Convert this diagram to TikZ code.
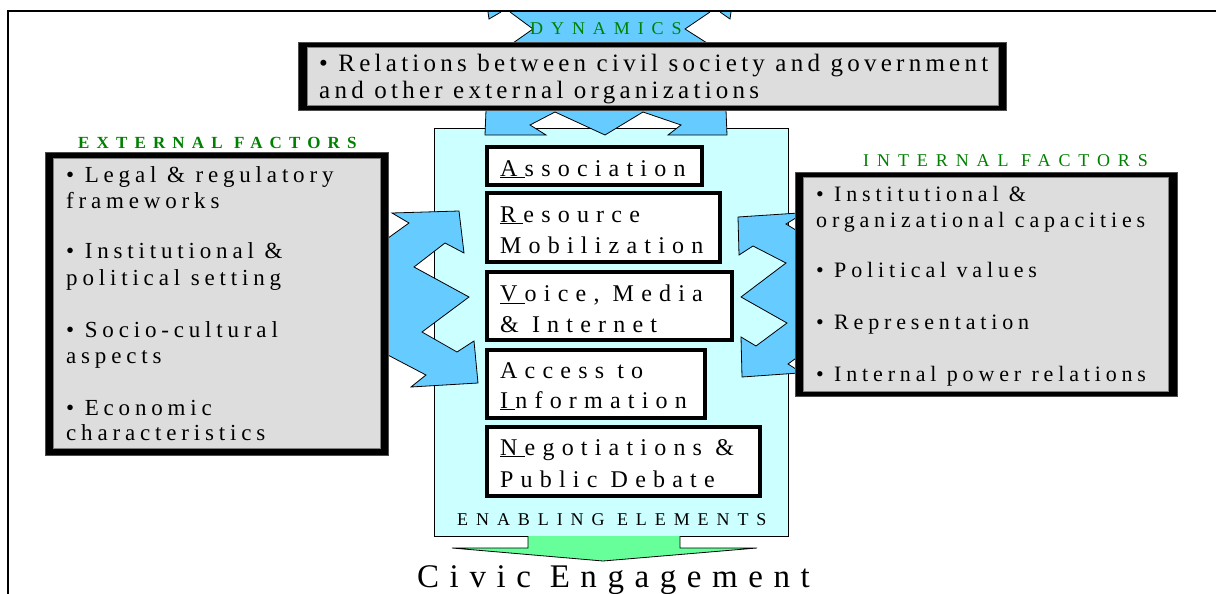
\documentclass[tikz,border=0pt]{standalone}
\usepackage{fontspec}
\setmainfont{Liberation Serif}
\newfontfamily\relf[LetterSpace=17]{Liberation Serif}
\newfontfamily\leftf[LetterSpace=21]{Liberation Serif}
\newfontfamily\rightf[LetterSpace=22]{Liberation Serif}
\newfontfamily\boxf[LetterSpace=30]{Liberation Serif}
\newfontfamily\labf[LetterSpace=44]{Liberation Serif}
\newfontfamily\labbf[LetterSpace=42]{Liberation Serif}
\newfontfamily\civf[LetterSpace=32]{Liberation Serif}
\newcommand{\firstul}[1]{\underline{#1\kern.3em}}
\definecolor{arrowblue}{RGB}{102,204,255}
\definecolor{panelcyan}{RGB}{204,255,255}
\definecolor{boxgray}{RGB}{221,221,221}
\definecolor{labgreen}{RGB}{0,128,0}
\definecolor{arrowgreen}{RGB}{102,255,153}
\tikzset{
  reltext/.style={anchor=base west, inner sep=0pt, font=\relf\fontsize{25}{28}\selectfont},
  lefttext/.style={anchor=base west, inner sep=0pt, font=\leftf\fontsize{23}{26}\selectfont},
  righttext/.style={anchor=base west, inner sep=0pt, font=\rightf\fontsize{22}{26}\selectfont},
  elem/.style={anchor=base west, inner sep=0pt, font=\boxf\fontsize{24}{28}\selectfont},
  lab/.style={anchor=base west, inner sep=0pt, text=labgreen, font=\labf\fontsize{18}{20}\selectfont},
  labb/.style={anchor=base west, inner sep=0pt, text=labgreen, font=\labbf\bfseries\fontsize{17}{19}\selectfont},
  zig/.style={fill=arrowblue, draw=black, line width=0.8pt, line join=miter},
  elembox/.style={draw=black, line width=3.5pt, fill=white},
  outline/.style={draw=black, line width=0.8pt},
  grayin/.style={fill=boxgray, draw=gray, line width=0.6pt},
}
\begin{document}
\begin{tikzpicture}[x=1pt, y=-1pt]
\useasboundingbox (0,0) rectangle (1216,594);
% central panel
\filldraw[fill=panelcyan, draw=black, line width=0.8pt] (434,128) rectangle (788,536);
% lower part of dynamics arrow
\draw[zig] (486,110) -- (726,110) -- (727,135) -- (668,135) -- (681,125) -- (643,112) -- (605,135) -- (555,112) -- (530,125) -- (546,135) -- (485,135) -- cycle;
% left zigzag arrow
\draw[zig] (392,213) -- (459,211) -- (464,253) -- (445,243) -- (414,267) -- (469,297) -- (422,332) -- (457,352) -- (474,341) -- (478,383) -- (411,387) -- (426,375) -- (384,353) -- (384,241) -- (409,223) -- cycle;
% right zigzag arrow
\draw[zig] (738,217) -- (799,213) -- (799,216) -- (786,224) -- (799,232) -- (799,356) -- (788,364) -- (799,371) -- (799,373) -- (742,377) -- (741,337) -- (756,346) -- (787,323) -- (741,297) -- (786,263) -- (753,246) -- (739,255) -- cycle;
% upper part of dynamics arrow
\fill[arrowblue] (510,12) -- (533,29) -- (513,43) -- (707,43) -- (685,29) -- (710,12) -- cycle;
\draw[outline] (510,12) -- (533,29) -- (513,43);
\draw[outline] (710,12) -- (685,29) -- (707,43);
\fill[arrowblue] (488,12) -- (489,19) -- (501,12) -- cycle;
\draw[outline] (488,12) -- (489,19) -- (501,12);
\fill[arrowblue] (731,12) -- (730,19) -- (720,12) -- cycle;
\draw[outline] (731,12) -- (730,19) -- (720,12);
% gray boxes
\filldraw[fill=black, draw=gray!60!black, line width=0.6pt] (298,42) rectangle (1006,110);
\filldraw[grayin] (307,47) rectangle (998,105);
\filldraw[fill=black, draw=gray!60!black, line width=0.6pt] (45,152) rectangle (388,455);
\filldraw[grayin] (53,158) rectangle (380,448);
\filldraw[fill=black, draw=gray!60!black, line width=0.6pt] (795,172) rectangle (1177,396);
\filldraw[grayin] (803,177) rectangle (1168,391);
% enabling element boxes
\draw[elembox] (487,147) rectangle (702,185);
\draw[elembox] (487,193) rectangle (720,262);
\draw[elembox] (487,272) rectangle (732,340);
\draw[elembox] (487,350) rectangle (705,418);
\draw[elembox] (487,427) rectangle (760,496);
% civic engagement arrow
\draw[fill=arrowgreen, line width=0.8pt, line join=miter] (528,536) -- (528,548) -- (452,548) -- (603,561) -- (757,548) -- (680,548) -- (680,536);
% labels
\node[lab] (dyn) at (530,35) {DYNAMICS};
\node[labb] (extlab) at (78,148) {EXTERNAL FACTORS};
\node[lab] (intlab) at (863,166) {INTERNAL FACTORS};
\node[lab, text=black] (enab) at (457,525) {ENABLING ELEMENTS};
\node[anchor=base west, inner sep=0pt, font=\civf\fontsize{33}{36}\selectfont] (civic) at (417,587) {Civic Engagement};
% relations
\node[reltext] (rel1) at (319,72) {• Relations between civil society and government};
\node[reltext] (rel2) at (319,99) {and other external organizations};
% external factors
\node[lefttext] (ext1) at (66,182) {• Legal \& regulatory};
\node[lefttext] (ext2) at (66,208) {frameworks};
\node[lefttext] (ext3) at (66,258) {• Institutional \&};
\node[lefttext] (ext4) at (66,285) {political setting};
\node[lefttext] (ext5) at (66,337) {• Socio-cultural};
\node[lefttext] (ext6) at (66,363) {aspects};
\node[lefttext] (ext7) at (66,415) {• Economic};
\node[lefttext] (ext8) at (66,440) {characteristics};
% internal factors
\node[righttext] (int1) at (816,201) {• Institutional \&};
\node[righttext] (int2) at (816,227) {organizational capacities};
\node[righttext] (int3) at (816,277) {• Political values};
\node[righttext] (int4) at (816,329) {• Representation};
\node[righttext] (int5) at (816,381) {• Internal power relations};
% enabling elements
\node[elem] (e1) at (500,176) {\firstul{A}ssociation};
\node[elem] (e2a) at (500,222) {\firstul{R}esource};
\node[elem] (e2b) at (500,253) {Mobilization};
\node[elem] (e3a) at (500,301) {\firstul{V}oice, Media};
\node[elem] (e3b) at (500,332) {\& Internet};
\node[elem] (e4a) at (500,378) {Access to};
\node[elem] (e4b) at (500,408) {\firstul{I}nformation};
\node[elem] (e5a) at (500,455) {\firstul{N}egotiations \&};
\node[elem] (e5b) at (500,487) {Public Debate};
% frame
\draw[line width=2.2pt] (8,594) -- (8,11) -- (1216,11);
\end{tikzpicture}
\end{document}
